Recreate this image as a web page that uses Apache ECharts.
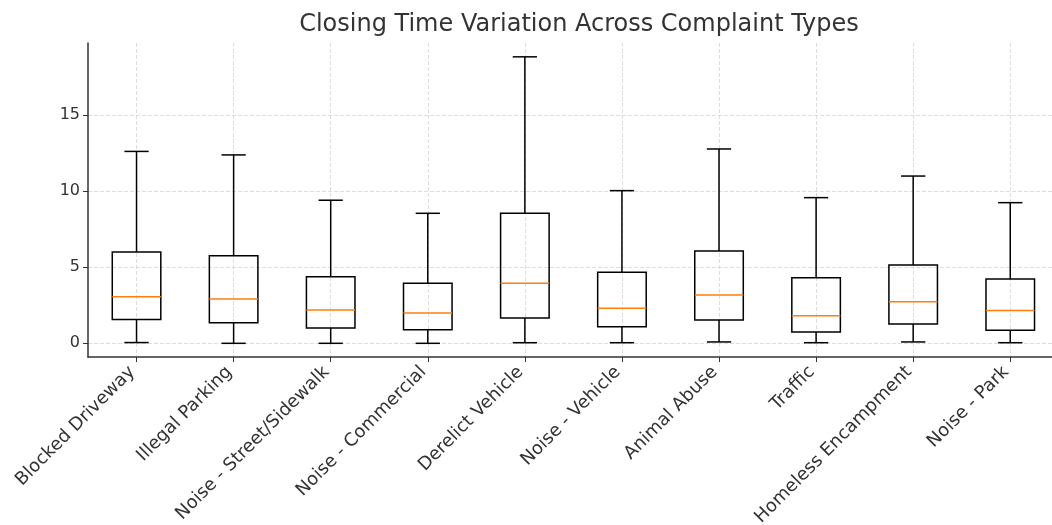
<!DOCTYPE html>
<html>
<head>
<meta charset="utf-8">
<script src="https://cdn.jsdelivr.net/npm/echarts@6/dist/echarts.min.js"></script>
<style>
  html, body { margin: 0; padding: 0; background: #fff; }
  #chart { width: 1052px; height: 525px; }
</style>
</head>
<body>
<div id="chart"></div>
<script>
const categories = [
  'Blocked Driveway', 'Illegal Parking', 'Noise - Street/Sidewalk', 'Noise - Commercial',
  'Derelict Vehicle', 'Noise - Vehicle', 'Animal Abuse', 'Traffic',
  'Homeless Encampment', 'Noise - Park'
]
const whiskerLow = [0.05, 0.0, 0.0, 0.0, 0.04, 0.04, 0.09, 0.04, 0.09, 0.04]
const q1 = [1.57, 1.36, 1.0, 0.9, 1.66, 1.09, 1.53, 0.74, 1.27, 0.86]
const median = [3.06, 2.91, 2.19, 1.99, 3.95, 2.3, 3.18, 1.82, 2.74, 2.15]
const q3 = [6.0, 5.76, 4.38, 3.95, 8.55, 4.67, 6.07, 4.32, 5.15, 4.23]
const whiskerHigh = [12.62, 12.39, 9.41, 8.55, 18.84, 10.04, 12.78, 9.58, 11.0, 9.25]
const yTicks = [0, 5, 10, 15]

const positions = categories.map((c, i) => i + 1)
const boxData = positions.map((p, i) => [p, whiskerLow[i], q1[i], median[i], q3[i], whiskerHigh[i]])

const FONT = 'DejaVu Sans'
const chart = echarts.init(document.getElementById('chart'))

// matplotlib-like box: unfilled box, orange median, caps half the box width
const renderBox = (params, api) => {
  const x = api.value(0)
  const band = api.size([1, 0])[0]
  const boxHalf = band * 0.25
  const capHalf = band * 0.125
  const pLow = api.coord([x, api.value(1)])
  const pQ1 = api.coord([x, api.value(2)])
  const pMed = api.coord([x, api.value(3)])
  const pQ3 = api.coord([x, api.value(4)])
  const pHigh = api.coord([x, api.value(5)])
  const cx = pLow[0]
  const line = (x1, y1, x2, y2, color) => ({
    type: 'line',
    shape: { x1, y1, x2, y2 },
    style: { stroke: color || '#000', lineWidth: 1.5 }
  })
  return {
    type: 'group',
    children: [
      line(cx, pLow[1], cx, pQ1[1]),
      line(cx, pQ3[1], cx, pHigh[1]),
      line(cx - capHalf, pLow[1], cx + capHalf, pLow[1]),
      line(cx - capHalf, pHigh[1], cx + capHalf, pHigh[1]),
      {
        type: 'rect',
        shape: { x: cx - boxHalf, y: pQ3[1], width: boxHalf * 2, height: pQ1[1] - pQ3[1] },
        style: { fill: 'none', stroke: '#000', lineWidth: 1.5 }
      },
      line(cx - boxHalf, pMed[1], cx + boxHalf, pMed[1], '#ff7f0e')
    ]
  }
}

chart.setOption({
  animation: false,
  title: {
    text: 'Closing Time Variation Across Complaint Types',
    left: 574,
    textAlign: 'center',
    top: 8,
    textStyle: { fontFamily: FONT, fontSize: 24, fontWeight: 'normal', color: '#333' }
  },
  grid: { left: 88, top: 43, right: 0, bottom: 168, outerBoundsMode: 'none', containLabel: false },
  xAxis: {
    type: 'value',
    min: 0.5,
    max: 10.43,
    axisLine: { show: true, onZero: false, lineStyle: { color: '#333', width: 1.5 } },
    axisTick: { show: true, length: 5, customValues: positions, lineStyle: { color: '#333' } },
    axisLabel: {
      customValues: positions,
      formatter: (v) => categories[Math.round(v) - 1] || '',
      rotate: 45,
      margin: 8,
      padding: [0, 6, 0, 0],
      fontFamily: FONT,
      fontSize: 18,
      color: '#333'
    },
    splitLine: { show: true, lineStyle: { color: '#d6d6d6', type: [4, 2], width: 0.8 } }
  },
  yAxis: {
    type: 'value',
    min: -0.9,
    max: 19.75,
    axisLine: { show: true, lineStyle: { color: '#333', width: 1.5 } },
    axisTick: { show: true, length: 5, customValues: yTicks, lineStyle: { color: '#333' } },
    axisLabel: {
      customValues: yTicks,
      margin: 8,
      fontFamily: FONT,
      fontSize: 16,
      color: '#333'
    },
    splitLine: { show: true, lineStyle: { color: '#d6d6d6', type: [4, 2], width: 0.8 } }
  },
  series: [{
    type: 'custom',
    renderItem: renderBox,
    encode: { x: 0, y: [1, 2, 3, 4, 5] },
    data: boxData
  }]
})
</script>
</body>
</html>
